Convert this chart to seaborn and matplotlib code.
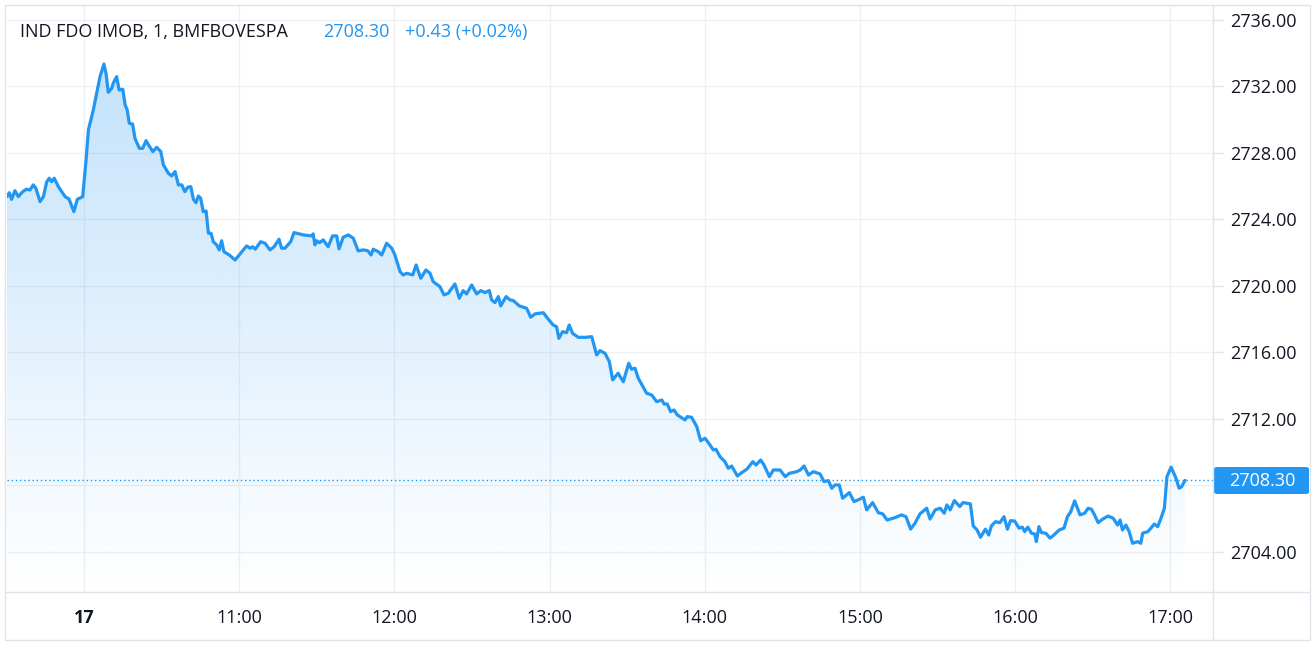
import numpy as np
import pandas as pd
import matplotlib
matplotlib.use("Agg")
import matplotlib.pyplot as plt
from matplotlib.patches import Rectangle, FancyBboxPatch
from matplotlib.lines import Line2D
import seaborn as sns

# --- data: minutes after 09:30, price ---
minutes = [
    0.2, 1.1, 2.0, 3.3, 4.6, 6.3, 7.8, 9.1, 10.4, 11.4, 13.0, 14.3, 15.6, 16.6, 17.5, 18.5,
    20.1, 22.7, 24.2, 26.1, 27.4, 29.5, 30.8, 31.7, 33.6, 34.9, 36.2, 37.7, 38.5, 39.4,
    40.7, 41.3, 42.6, 43.6, 45.0, 45.9, 46.7, 47.5, 48.8, 49.7, 51.4, 52.7, 54.0, 55.2,
    56.6, 58.1, 59.7, 60.7, 62.6, 63.9, 65.2, 66.5, 67.8, 69.0, 70.1, 71.3, 72.3, 73.3,
    74.2, 75.1, 76.1, 77.2, 78.1, 79.1, 80.0, 81.3, 82.3, 83.2, 84.1, 86.2, 88.4, 90.3,
    92.9, 94.2, 95.2, 96.2, 98.3, 100.0, 101.9, 103.5, 105.4, 106.4, 107.7, 109.9, 111.2,
    114.8, 118.0, 118.6, 119.3, 120.0, 121.0, 122.5, 124.4, 126.1, 127.7, 128.6, 130.2,
    132.2, 134.1, 136.0, 138.0, 139.7, 141.0, 141.8, 143.8, 145.1, 147.0, 149.0, 150.2,
    152.2, 153.4, 154.8, 157.1, 158.4, 160.2, 162.2, 163.8, 165.0, 167.6, 169.2, 170.8,
    173.4, 175.1, 176.6, 177.9, 179.9, 181.8, 183.4, 185.0, 186.7, 187.6, 188.9, 190.2,
    191.1, 193.2, 194.7, 196.0, 198.3, 201.1, 202.7, 204.4, 207.6, 209.5, 211.4, 212.7,
    213.6, 215.0, 216.6, 217.6, 218.9, 221.1, 224.1, 226.3, 228.2, 229.5, 231.4, 233.1,
    234.4, 236.5, 238.5, 240.6, 241.7, 243.0, 244.3, 247.5, 249.5, 251.4, 253.4, 254.3,
    255.5, 256.8, 258.1, 259.4, 262.4, 263.2, 264.9, 266.9, 268.4, 270.1, 272.0, 273.3,
    274.3, 275.9, 277.8, 279.1, 280.4, 282.6, 284.3, 286.3, 288.6, 289.8, 291.6, 292.9,
    295.0, 296.5, 299.1, 301.1, 302.7, 305.6, 306.9, 308.4, 310.1, 312.0, 314.6, 316.1,
    317.8, 319.1, 320.3, 322.0, 323.3, 325.9, 327.7, 329.3, 331.3, 332.6, 334.9, 337.1,
    338.8, 340.5, 343.5, 346.1, 347.8, 349.6, 351.3, 353.2, 355.8, 357.1, 359.1, 361.0,
    362.6, 363.6, 364.9, 366.5, 368.6, 369.9, 372.7, 373.8, 375.3, 376.6, 378.5, 379.8,
    380.8, 382.4, 384.1, 385.7, 387.0, 388.2, 389.8, 391.5, 392.8, 393.7, 394.9, 396.3,
    397.6, 398.2, 399.2, 400.2, 401.8, 403.5, 405.0, 407.0, 408.9, 410.2, 411.5, 413.0,
    415.1, 416.9, 418.2, 419.5, 420.5, 422.1, 423.8, 425.9, 427.9, 429.6, 430.6, 431.5,
    432.8, 434.1, 435.4, 437.4, 438.6, 439.3, 441.3, 442.5, 443.8, 445.1, 446.4, 447.7,
    448.7, 450.3, 452.2, 453.4, 454.4, 455.7,
]
prices = [
    2725.37, 2725.61, 2725.21, 2725.73, 2725.37, 2725.67, 2725.82, 2725.77, 2726.08, 2725.88,
    2725.07, 2725.37, 2726.27, 2726.48, 2726.27, 2726.48, 2725.97, 2725.37, 2725.23, 2724.47,
    2725.21, 2725.37, 2727.58, 2729.38, 2730.59, 2731.59, 2732.59, 2733.35, 2732.79, 2731.65,
    2731.89, 2732.19, 2732.59, 2731.79, 2731.83, 2730.89, 2730.59, 2729.79, 2729.74, 2728.88,
    2728.28, 2728.28, 2728.74, 2728.42, 2728.08, 2728.34, 2728.08, 2727.28, 2726.78, 2726.62,
    2726.88, 2726.08, 2726.08, 2725.67, 2725.94, 2725.97, 2725.21, 2725.01, 2725.41, 2725.28,
    2724.47, 2724.51, 2723.17, 2723.17, 2722.66, 2722.47, 2722.17, 2722.72, 2722.06, 2721.86,
    2721.56, 2721.92, 2722.41, 2722.27, 2722.36, 2722.21, 2722.66, 2722.57, 2722.17, 2722.36,
    2722.81, 2722.27, 2722.27, 2722.66, 2723.21, 2723.07, 2723.01, 2723.13, 2722.47, 2722.72,
    2722.60, 2722.77, 2722.36, 2723.01, 2723.01, 2722.23, 2722.93, 2723.07, 2722.87, 2722.11,
    2722.17, 2722.12, 2721.86, 2722.21, 2722.06, 2721.86, 2722.57, 2722.27, 2721.86, 2720.86,
    2720.66, 2720.76, 2720.66, 2721.26, 2720.46, 2720.96, 2720.76, 2720.26, 2719.96, 2719.46,
    2719.56, 2720.12, 2719.26, 2719.72, 2719.52, 2720.06, 2719.52, 2719.72, 2719.60, 2719.72,
    2719.16, 2719.00, 2719.36, 2718.80, 2719.36, 2719.16, 2719.12, 2718.80, 2718.66, 2718.12,
    2718.32, 2718.39, 2718.00, 2717.65, 2717.55, 2716.85, 2717.25, 2717.19, 2717.65, 2717.15,
    2716.91, 2716.91, 2716.95, 2715.85, 2716.11, 2715.95, 2715.45, 2714.35, 2714.75, 2714.24,
    2715.35, 2714.99, 2715.05, 2714.45, 2713.55, 2713.44, 2713.04, 2713.14, 2712.90, 2712.90,
    2712.44, 2712.54, 2712.24, 2711.94, 2712.14, 2712.10, 2711.54, 2710.69, 2710.84, 2710.44,
    2710.14, 2710.18, 2709.73, 2709.43, 2709.03, 2709.17, 2708.57, 2708.77, 2708.98, 2709.43,
    2709.23, 2709.53, 2709.23, 2708.53, 2708.93, 2708.93, 2708.53, 2708.73, 2708.83, 2708.93,
    2709.17, 2708.63, 2708.83, 2708.69, 2708.23, 2708.29, 2707.83, 2708.03, 2708.03, 2707.23,
    2707.57, 2707.03, 2707.13, 2707.29, 2706.53, 2706.97, 2706.36, 2706.29, 2705.92, 2706.06,
    2706.23, 2706.12, 2705.37, 2705.73, 2706.29, 2706.63, 2705.98, 2706.53, 2706.63, 2706.33,
    2706.83, 2706.53, 2707.09, 2706.73, 2706.97, 2706.89, 2705.56, 2705.32, 2704.88, 2705.37,
    2705.02, 2705.56, 2705.82, 2705.76, 2706.12, 2705.37, 2705.88, 2705.86, 2705.43, 2705.49,
    2705.22, 2705.49, 2705.13, 2705.08, 2704.62, 2705.52, 2705.16, 2705.13, 2704.83, 2705.02,
    2705.32, 2705.43, 2706.12, 2706.42, 2707.07, 2706.23, 2706.33, 2706.63, 2706.57, 2706.29,
    2705.76, 2705.97, 2706.16, 2706.03, 2705.62, 2705.92, 2705.32, 2705.62, 2705.22, 2704.52,
    2704.62, 2704.52, 2705.13, 2705.22, 2705.43, 2705.68, 2705.52, 2706.03, 2706.63, 2708.53,
    2709.10, 2708.43, 2707.83, 2707.93, 2708.30,
]

symbol = "IND FDO IMOB, 1, BMFBOVESPA"
last_price = "2708.30"
change = "+0.43 (+0.02%)"

x_ticks = [30, 90, 150, 210, 270, 330, 390, 450]
x_labels = ["17", "11:00", "12:00", "13:00", "14:00", "15:00", "16:00", "17:00"]
y_ticks = [2704, 2708, 2712, 2716, 2720, 2724, 2728, 2732, 2736]

BLUE = "#2196F3"
TEXT = "#131722"
GRID = "#eef0f5"
BORDER = "#e0e3eb"
FS = 13

df = pd.DataFrame({"minute": minutes, "price": prices})

sns.set_theme(style="white")
plt.rcParams["font.family"] = ["Open Sans", "DejaVu Sans"]

W, H = 1315, 654
fig = plt.figure(figsize=(W / 100, H / 100), dpi=100)
ax = fig.add_axes([7 / W, 1 - 592 / H, (1213 - 7) / W, (592 - 5) / H])

xmin, xmax = 0.23, 466.5
ymin, ymax = 2701.59, 2736.90

# gradient fill under the line
poly = ax.fill_between(df["minute"], df["price"], ymin, color="none", lw=0)
top_val = df["price"].max()
n = 256
rgba = np.zeros((n, 1, 4))
rgba[..., :3] = matplotlib.colors.to_rgb(BLUE)
rgba[..., 3] = np.linspace(0.27, 0.0, n)[:, None]
im = ax.imshow(rgba, extent=[xmin, xmax, ymin, top_val], aspect="auto",
               origin="upper", zorder=1, interpolation="bilinear")
im.set_clip_path(poly.get_paths()[0], transform=ax.transData)

sns.lineplot(data=df, x="minute", y="price", ax=ax, color=BLUE, lw=2.3, zorder=3)

# last price dotted line
ax.axhline(float(last_price), color=BLUE, lw=1.0, linestyle=(0, (1, 2)), zorder=2)

ax.set_xlim(xmin, xmax)
ax.set_ylim(ymin, ymax)
ax.set_xlabel("")
ax.set_ylabel("")

ax.set_xticks(x_ticks)
ax.set_xticklabels(x_labels)
ax.set_yticks(y_ticks)
ax.set_yticklabels(["" if v == 2708 else f"{v:.2f}" for v in y_ticks])
ax.yaxis.tick_right()
ax.tick_params(axis="y", length=7, width=1, color=BORDER, pad=5,
               labelsize=FS, labelcolor=TEXT)
ax.tick_params(axis="x", length=6, width=1, color=BORDER, pad=6,
               labelsize=FS, labelcolor=TEXT)
ax.get_xticklabels()[0].set_fontweight("bold")
ax.grid(True, color=GRID, lw=1)
ax.set_axisbelow(True)
for s in ax.spines.values():
    s.set_visible(False)


def fx(px):
    return px / W


def fy(py):
    return 1 - py / H


# frame lines
fig.patches.append(Rectangle((fx(5), fy(640)), fx(1310) - fx(5), fy(5) - fy(640),
                             transform=fig.transFigure, fill=False, ec=BORDER, lw=1))
fig.lines.append(Line2D([fx(1213), fx(1213)], [fy(5), fy(640)],
                        transform=fig.transFigure, color=BORDER, lw=1))
fig.lines.append(Line2D([fx(5), fx(1310)], [fy(592), fy(592)],
                        transform=fig.transFigure, color=BORDER, lw=1))

# price label box
fig.patches.append(FancyBboxPatch((fx(1214), fy(494)), fx(1309) - fx(1214), fy(467) - fy(494),
                                  boxstyle="round,pad=0,rounding_size=0.003",
                                  transform=fig.transFigure, fc=BLUE, ec="none"))
fig.text(fx(1229), fy(481), last_price, color="white", fontsize=FS, va="center", ha="left")

# header
fig.text(fx(20), fy(32), symbol, color=TEXT, fontsize=FS, va="center", ha="left")
fig.text(fx(323), fy(32), last_price, color=BLUE, fontsize=FS, va="center", ha="left")
fig.text(fx(405), fy(32), change, color=BLUE, fontsize=FS, va="center", ha="left")

fig.savefig("out.png", dpi=100)
